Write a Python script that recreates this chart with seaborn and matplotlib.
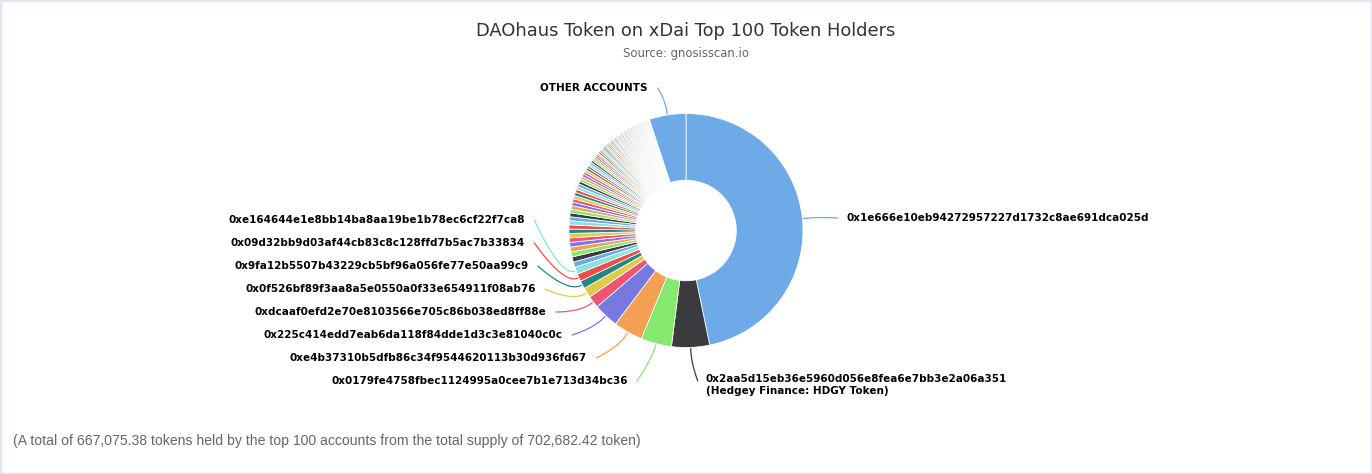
import numpy as np
import matplotlib
matplotlib.use("Agg")
import matplotlib.pyplot as plt
import seaborn as sns
from matplotlib.patches import Rectangle

# top 100 holders, token amounts (largest first)
holder_tokens = [
    329100, 36900, 29900, 28500, 24200, 11700, 9760, 7800, 7400, 6830,
    5270, 5075, 4880, 4685, 4490, 4390, 4295, 4195, 4100, 4000,
    3805, 3710, 3610, 3515, 3415, 3320, 3220, 3125, 3025, 2930,
    2830, 2735, 2635, 2540, 2480, 2420, 2360, 2305, 2245, 2185,
    2110, 2050, 1990, 1930, 1875, 1815, 1755, 1720, 1680, 1640,
    1600, 1560, 1520, 1485, 1445, 1405, 1365, 1330, 1290, 1250,
    1210, 1190, 1170, 1150, 1140, 1130, 1120, 1115, 1105, 1095,
    1085, 1075, 1065, 1055, 1045, 1035, 1025, 1015, 1005, 995,
    985, 975, 965, 955, 945, 935, 925, 915, 905, 900,
    890, 880, 870, 860, 850, 840, 830, 820, 810, 800,
]
other_tokens = 35607.04
other_label = "OTHER ACCOUNTS"

# addresses of the ten biggest holders (only these get a label)
top_addresses = [
    "0x1e666e10eb94272957227d1732c8ae691dca025d",
    "0x2aa5d15eb36e5960d056e8fea6e7bb3e2a06a351",
    "0x0179fe4758fbec1124995a0cee7b1e713d34bc36",
    "0xe4b37310b5dfb86c34f9544620113b30d936fd67",
    "0x225c414edd7eab6da118f84dde1d3c3e81040c0c",
    "0xdcaaf0efd2e70e8103566e705c86b038ed8ff88e",
    "0x0f526bf89f3aa8a5e0550a0f33e654911f08ab76",
    "0x9fa12b5507b43229cb5bf96a056fe77e50aa99c9",
    "0x09d32bb9d03af44cb83c8c128ffd7b5ac7b33834",
    "0xe164644e1e8bb14ba8aa19be1b78ec6cf22f7ca8",
]
hedgey_name = "(Hedgey Finance: HDGY Token)"

title = "DAOhaus Token on xDai Top 100 Token Holders"
subtitle = "Source: gnosisscan.io"
footer = ("(A total of 667,075.38 tokens held by the top 100 accounts "
          "from the total supply of 702,682.42 token)")

palette = ["#6eaae7", "#3a3a3f", "#85e86f", "#f59f52", "#7778e0",
           "#ef5474", "#e0cc4b", "#26857f", "#f04b4b", "#8de3db"]

sns.set_theme(style="white")
plt.rcParams['font.family'] = ['DejaVu Sans']

W, H = 1372, 474
fig = plt.figure(figsize=(W / 100, H / 100), dpi=100)
ax = fig.add_axes([0, 0, 1, 1])

values = holder_tokens + [other_tokens]
colors = [palette[i % len(palette)] for i in range(len(values))]
wedges, _ = ax.pie(values, colors=colors, startangle=90, counterclock=False,
                   radius=1.0,
                   wedgeprops=dict(width=0.57, edgecolor="white", linewidth=0.55))

# 1 data unit = pie radius in pixels, centre of pie placed in pixels
r_px, cx, cy = 117, 686, 230.5
ax.set_xlim(-cx / r_px, (W - cx) / r_px)
ax.set_ylim(-(H - cy) / r_px, cy / r_px)
ax.set_aspect("equal")
ax.axis("off")


def edge_point(w, r):
    a = np.deg2rad((w.theta1 + w.theta2) / 2)
    return np.array([r * np.cos(a), r * np.sin(a)])


def connector(w, start, color):
    e = edge_point(w, 1.01)
    c = edge_point(w, 1.14)
    t = np.linspace(0, 1, 30)[:, None]
    pts = (1 - t) ** 2 * np.asarray(start) + 2 * (1 - t) * t * c + t ** 2 * e
    ax.plot(pts[:, 0], pts[:, 1], color=color, lw=0.9, solid_capstyle="round")


lab_kw = dict(fontsize=7.45, fontweight="bold", color="black")
r_lab = 1.38
step = 23 / r_px
y_bottom = -(381 - cy) / r_px

# left-hand labels, stacked bottom to top
for k, i in enumerate(range(2, 10)):
    y = y_bottom + k * step
    x = -np.sqrt(r_lab ** 2 - y ** 2)
    ax.text(x, y, top_addresses[i], ha="right", va="center", **lab_kw)
    connector(wedges[i], (x + 0.08, y), colors[i])

# biggest holder, right side
y = (cy - 218) / r_px
x = np.sqrt(r_lab ** 2 - y ** 2)
ax.text(x, y, top_addresses[0], ha="left", va="center", **lab_kw)
connector(wedges[0], (x - 0.08, y), colors[0])

# second holder, below the pie
x = (706 - cx) / r_px
ax.text(x, y_bottom + 0.06, top_addresses[1] + "\n" + hedgey_name,
        ha="left", va="top", linespacing=1.25, **lab_kw)
connector(wedges[1], (x - 0.07, y_bottom), colors[1])

# other accounts, above
x, y = (647 - cx) / r_px, (cy - 88) / r_px
ax.text(x, y, other_label, ha="right", va="center", **lab_kw)
connector(wedges[-1], (x + 0.09, y), colors[-1])

fig.text(0.5, 1 - 31 / H, title, ha="center", va="center",
         fontsize=12.9, color="#333333")
fig.text(0.5, 1 - 53 / H, subtitle, ha="center", va="center",
         fontsize=8.4, color="#666666")
fig.text(13 / W, 1 - 441 / H, footer, ha="left", va="center",
         fontsize=10.05, color="#666666", family=["Liberation Sans"])

fig.patches.append(Rectangle((0, 0), 1, 1, transform=fig.transFigure,
                             fill=False, edgecolor="#e3e6ef", lw=2.5))

fig.savefig("out.png", dpi=100, facecolor="white")
